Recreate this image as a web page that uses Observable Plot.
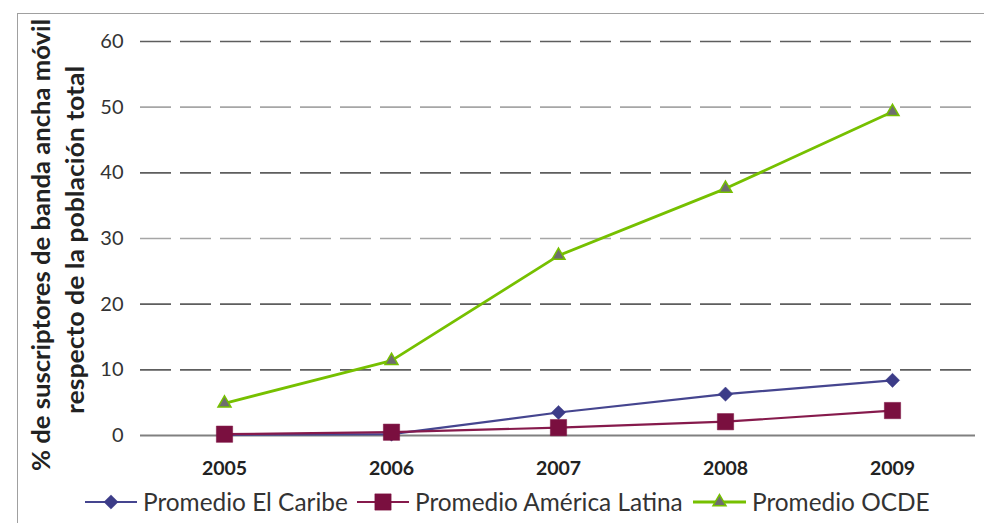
<!DOCTYPE html>
<html>
<head>
<meta charset="utf-8">
<script src="https://cdn.jsdelivr.net/npm/d3@7"></script>
<script src="https://cdn.jsdelivr.net/npm/@observablehq/plot@0.6"></script>
<style>
  html, body { margin: 0; padding: 0; background: #fff; }
  #chart { position: relative; width: 984px; height: 523px; }
  svg { font-family: Lato, "Open Sans", sans-serif; }
</style>
</head>
<body>
<div id="chart"></div>
<script>
// Mobile broadband subscribers as % of total population
const years = ["2005", "2006", "2007", "2008", "2009"];
const caribe = [0.1, 0.2, 3.5, 6.3, 8.4];
const latina = [0.2, 0.5, 1.2, 2.1, 3.8];
const ocde = [4.9, 11.4, 27.4, 37.6, 49.3];
const yTicks = [0, 10, 20, 30, 40, 50, 60];
const gridShade = ["#5e5e5e", "#a6a6a6", "#5e5e5e", "#a6a6a6", "#5e5e5e", "#5e5e5e"]; // 60..10

const seriesNames = ["Promedio El Caribe", "Promedio América Latina", "Promedio OCDE"];
const seriesValues = [caribe, latina, ocde];
const lineColors = ["#45458f", "#861a4c", "#76c000"];
const markFill = ["#3c3c88", "#7a0f3f", "#6e6e6e"];
const markStroke = ["#3c3c88", "#7a0f3f", "#76c000"];
const symbols = ["diamond2", "square", "triangle2"];
const markR = [6.4, 9.2, 6.2];
const lineW = [2.2, 2.2, 2.8];

const rows = seriesNames.flatMap((s, i) =>
  years.map((y, j) => ({series: s, idx: i, year: y, value: seriesValues[i][j]}))
);
const grid = yTicks.filter(d => d > 0).map(v => ({v, c: gridShade[(60 - v) / 10]}));

const W = 984, H = 523;
const chart = Plot.plot({
  width: W,
  height: H,
  marginLeft: 140,
  marginRight: 9,
  marginTop: 41,
  marginBottom: 88,
  style: {fontFamily: "Lato, 'Open Sans', sans-serif", background: "#fff"},
  x: {type: "point", domain: years, padding: 0.5},
  y: {domain: [0, 60]},
  marks: [
    Plot.ruleY(grid, {y: "v", stroke: "c", strokeWidth: 1.6, strokeDasharray: "31,9"}),
    Plot.ruleY([0], {stroke: "#808080", strokeWidth: 2}),
    Plot.axisY({ticks: yTicks, tickSize: 0, tickPadding: 17, fontSize: 20, fill: "#333", label: null}),
    Plot.axisX({tickSize: 0, tickPadding: 26, fontSize: 19.5, fontWeight: "bold", fill: "#222", label: null}),
    ...seriesNames.map((s, i) =>
      Plot.line(rows.filter(r => r.idx === i), {x: "year", y: "value", stroke: lineColors[i], strokeWidth: lineW[i]})
    ),
    ...seriesNames.map((s, i) =>
      Plot.dot(rows.filter(r => r.idx === i), {
        x: "year", y: "value", symbol: () => symbols[i], r: markR[i],
        fill: markFill[i], stroke: markStroke[i], strokeWidth: i === 2 ? 1.5 : 0.5
      })
    )
  ]
});
document.getElementById("chart").appendChild(chart);

const svg = d3.select(chart);

// Outer frame
svg.append("rect")
  .attr("x", 17.5).attr("y", 13.5).attr("width", W).attr("height", H)
  .attr("fill", "none").attr("stroke", "#a0a0a0").attr("stroke-width", 1);

// Y axis title, two rotated lines
const yTitle = svg.append("g").attr("font-weight", "bold").attr("font-size", 25).attr("fill", "#222")
  .attr("text-anchor", "middle");
yTitle.append("text").attr("transform", "translate(50,245) rotate(-90)")
  .attr("textLength", 452).attr("lengthAdjust", "spacingAndGlyphs")
  .text("% de suscriptores de banda ancha móvil");
yTitle.append("text").attr("transform", "translate(84,240) rotate(-90)")
  .attr("textLength", 348).attr("lengthAdjust", "spacingAndGlyphs")
  .text("respecto de la población total");

// Legend
const legendX = [85, 357, 693];
const textX = [143, 415, 752];
const legY = 502;
const leg = svg.append("g").attr("text-anchor", "start");
seriesNames.forEach((s, i) => {
  const x0 = legendX[i];
  const x1 = textX[i] - 6;
  leg.append("line").attr("x1", x0).attr("x2", x1).attr("y1", legY).attr("y2", legY)
    .attr("stroke", lineColors[i]).attr("stroke-width", lineW[i]);
  const sym = d3.symbol().type(
    i === 0 ? d3.symbolDiamond2 : i === 1 ? d3.symbolSquare : d3.symbolTriangle2
  ).size(Math.PI * markR[i] * markR[i]);
  leg.append("path").attr("d", sym()).attr("transform", `translate(${(x0 + x1) / 2},${legY})`)
    .attr("fill", markFill[i]).attr("stroke", markStroke[i]).attr("stroke-width", i === 2 ? 1.5 : 0.5);
  leg.append("text").attr("x", textX[i]).attr("y", legY).attr("dy", "0.35em")
    .attr("font-size", 24.4).attr("fill", "#333").text(s);
});
</script>
</body>
</html>
